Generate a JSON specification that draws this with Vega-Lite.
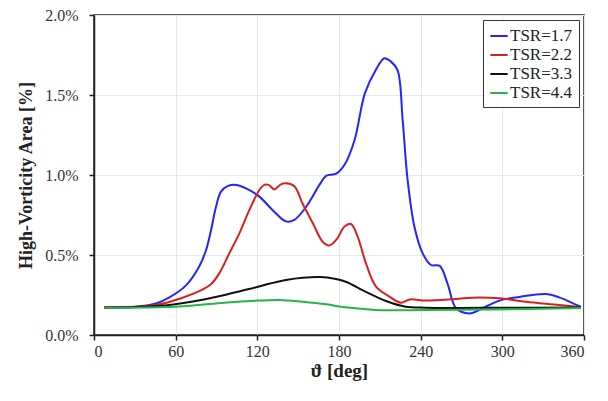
{
  "$schema": "https://vega.github.io/schema/vega-lite/v6.json",
  "width": 490,
  "height": 320,
  "autosize": {"type": "none"},
  "padding": {"left": 94, "top": 15, "right": 20, "bottom": 66},
  "background": "white",
  "config": {
    "view": {"stroke": "#222", "strokeWidth": 1.5},
    "font": "Liberation Serif"
  },
  "data": {
    "values": [
      {"s": "TSR=1.7", "deg": 7.6, "v": 0.172},
      {"s": "TSR=1.7", "deg": 30, "v": 0.176},
      {"s": "TSR=1.7", "deg": 45, "v": 0.195},
      {"s": "TSR=1.7", "deg": 55.4, "v": 0.235},
      {"s": "TSR=1.7", "deg": 67.6, "v": 0.31},
      {"s": "TSR=1.7", "deg": 77.4, "v": 0.43},
      {"s": "TSR=1.7", "deg": 82.3, "v": 0.53},
      {"s": "TSR=1.7", "deg": 86, "v": 0.656},
      {"s": "TSR=1.7", "deg": 89.6, "v": 0.8},
      {"s": "TSR=1.7", "deg": 93.3, "v": 0.896},
      {"s": "TSR=1.7", "deg": 98.2, "v": 0.93},
      {"s": "TSR=1.7", "deg": 104.3, "v": 0.938},
      {"s": "TSR=1.7", "deg": 111.7, "v": 0.917},
      {"s": "TSR=1.7", "deg": 121.5, "v": 0.865},
      {"s": "TSR=1.7", "deg": 131.3, "v": 0.78},
      {"s": "TSR=1.7", "deg": 141, "v": 0.71},
      {"s": "TSR=1.7", "deg": 147.2, "v": 0.72},
      {"s": "TSR=1.7", "deg": 155.8, "v": 0.8},
      {"s": "TSR=1.7", "deg": 165.6, "v": 0.938},
      {"s": "TSR=1.7", "deg": 170.5, "v": 0.995},
      {"s": "TSR=1.7", "deg": 178, "v": 1.008},
      {"s": "TSR=1.7", "deg": 184.5, "v": 1.07},
      {"s": "TSR=1.7", "deg": 191.5, "v": 1.22},
      {"s": "TSR=1.7", "deg": 199, "v": 1.51},
      {"s": "TSR=1.7", "deg": 207, "v": 1.656},
      {"s": "TSR=1.7", "deg": 213.3, "v": 1.73},
      {"s": "TSR=1.7", "deg": 218, "v": 1.71},
      {"s": "TSR=1.7", "deg": 223, "v": 1.656},
      {"s": "TSR=1.7", "deg": 226.8, "v": 1.34},
      {"s": "TSR=1.7", "deg": 230.4, "v": 0.97},
      {"s": "TSR=1.7", "deg": 235.4, "v": 0.677},
      {"s": "TSR=1.7", "deg": 241.5, "v": 0.51},
      {"s": "TSR=1.7", "deg": 247.6, "v": 0.4375},
      {"s": "TSR=1.7", "deg": 254, "v": 0.432},
      {"s": "TSR=1.7", "deg": 259.8, "v": 0.32},
      {"s": "TSR=1.7", "deg": 266, "v": 0.167},
      {"s": "TSR=1.7", "deg": 275.7, "v": 0.135},
      {"s": "TSR=1.7", "deg": 285.5, "v": 0.167},
      {"s": "TSR=1.7", "deg": 297.8, "v": 0.215},
      {"s": "TSR=1.7", "deg": 312.5, "v": 0.238},
      {"s": "TSR=1.7", "deg": 332, "v": 0.256},
      {"s": "TSR=1.7", "deg": 341.8, "v": 0.235},
      {"s": "TSR=1.7", "deg": 354, "v": 0.19},
      {"s": "TSR=1.7", "deg": 357.8, "v": 0.175},

      {"s": "TSR=2.2", "deg": 7.6, "v": 0.172},
      {"s": "TSR=2.2", "deg": 30, "v": 0.175},
      {"s": "TSR=2.2", "deg": 47, "v": 0.19},
      {"s": "TSR=2.2", "deg": 64, "v": 0.23},
      {"s": "TSR=2.2", "deg": 78.9, "v": 0.28},
      {"s": "TSR=2.2", "deg": 86.3, "v": 0.32},
      {"s": "TSR=2.2", "deg": 92, "v": 0.385},
      {"s": "TSR=2.2", "deg": 99.4, "v": 0.51},
      {"s": "TSR=2.2", "deg": 106.8, "v": 0.635},
      {"s": "TSR=2.2", "deg": 114.1, "v": 0.78},
      {"s": "TSR=2.2", "deg": 121.5, "v": 0.906},
      {"s": "TSR=2.2", "deg": 125.5, "v": 0.94},
      {"s": "TSR=2.2", "deg": 128.3, "v": 0.938},
      {"s": "TSR=2.2", "deg": 132.5, "v": 0.91},
      {"s": "TSR=2.2", "deg": 137, "v": 0.94},
      {"s": "TSR=2.2", "deg": 141, "v": 0.948},
      {"s": "TSR=2.2", "deg": 147.2, "v": 0.93},
      {"s": "TSR=2.2", "deg": 153.3, "v": 0.82},
      {"s": "TSR=2.2", "deg": 160.7, "v": 0.7},
      {"s": "TSR=2.2", "deg": 168, "v": 0.583},
      {"s": "TSR=2.2", "deg": 173, "v": 0.56},
      {"s": "TSR=2.2", "deg": 178.5, "v": 0.6},
      {"s": "TSR=2.2", "deg": 183.9, "v": 0.677},
      {"s": "TSR=2.2", "deg": 188.8, "v": 0.694},
      {"s": "TSR=2.2", "deg": 193.7, "v": 0.615},
      {"s": "TSR=2.2", "deg": 199.8, "v": 0.448},
      {"s": "TSR=2.2", "deg": 207.2, "v": 0.302},
      {"s": "TSR=2.2", "deg": 217, "v": 0.24},
      {"s": "TSR=2.2", "deg": 225.5, "v": 0.202},
      {"s": "TSR=2.2", "deg": 232, "v": 0.222},
      {"s": "TSR=2.2", "deg": 243.8, "v": 0.215},
      {"s": "TSR=2.2", "deg": 263.4, "v": 0.223},
      {"s": "TSR=2.2", "deg": 278, "v": 0.233},
      {"s": "TSR=2.2", "deg": 297.8, "v": 0.229},
      {"s": "TSR=2.2", "deg": 317.3, "v": 0.208},
      {"s": "TSR=2.2", "deg": 341.8, "v": 0.1875},
      {"s": "TSR=2.2", "deg": 357.8, "v": 0.173},

      {"s": "TSR=3.3", "deg": 7.6, "v": 0.172},
      {"s": "TSR=3.3", "deg": 47, "v": 0.181},
      {"s": "TSR=3.3", "deg": 71.5, "v": 0.208},
      {"s": "TSR=3.3", "deg": 96, "v": 0.25},
      {"s": "TSR=3.3", "deg": 120.5, "v": 0.302},
      {"s": "TSR=3.3", "deg": 141, "v": 0.344},
      {"s": "TSR=3.3", "deg": 166, "v": 0.362},
      {"s": "TSR=3.3", "deg": 177.8, "v": 0.35},
      {"s": "TSR=3.3", "deg": 185, "v": 0.333},
      {"s": "TSR=3.3", "deg": 199.8, "v": 0.27},
      {"s": "TSR=3.3", "deg": 214.5, "v": 0.2125},
      {"s": "TSR=3.3", "deg": 229, "v": 0.177},
      {"s": "TSR=3.3", "deg": 243.8, "v": 0.171},
      {"s": "TSR=3.3", "deg": 300, "v": 0.17},
      {"s": "TSR=3.3", "deg": 357.8, "v": 0.172},

      {"s": "TSR=4.4", "deg": 7.6, "v": 0.17},
      {"s": "TSR=4.4", "deg": 47, "v": 0.173},
      {"s": "TSR=4.4", "deg": 71.5, "v": 0.183},
      {"s": "TSR=4.4", "deg": 96, "v": 0.202},
      {"s": "TSR=4.4", "deg": 120.5, "v": 0.215},
      {"s": "TSR=4.4", "deg": 136, "v": 0.219},
      {"s": "TSR=4.4", "deg": 153, "v": 0.208},
      {"s": "TSR=4.4", "deg": 170.5, "v": 0.192},
      {"s": "TSR=4.4", "deg": 184.5, "v": 0.173},
      {"s": "TSR=4.4", "deg": 207, "v": 0.157},
      {"s": "TSR=4.4", "deg": 243.8, "v": 0.156},
      {"s": "TSR=4.4", "deg": 292.8, "v": 0.16},
      {"s": "TSR=4.4", "deg": 357.8, "v": 0.168}
    ]
  },
  "mark": {"type": "line", "interpolate": "catmull-rom", "strokeWidth": 2},
  "encoding": {
    "x": {
      "field": "deg", "type": "quantitative",
      "scale": {"domain": [0, 360], "nice": false},
      "axis": {
        "values": [0, 60, 120, 180, 240, 300, 360],
        "title": "ϑ [deg]",
        "titleFont": "Liberation Serif", "titleFontSize": 19, "titleFontWeight": "bold", "titleColor": "#222",
        "titlePadding": 2,
        "labelFont": "Liberation Serif", "labelFontSize": 16, "labelColor": "#333", "labelPadding": 3,
        "domainColor": "#222", "domainWidth": 1.5,
        "tickColor": "#222", "tickSize": 5, "tickWidth": 1.5,
        "gridColor": "#e8e8e8", "gridWidth": 1
      }
    },
    "y": {
      "field": "v", "type": "quantitative",
      "scale": {"domain": [0, 2], "nice": false},
      "axis": {
        "values": [0, 0.5, 1, 1.5, 2],
        "labelExpr": "format(datum.value, '.1f') + '%'",
        "title": "High-Vorticity Area [%]",
        "titleFont": "Liberation Serif", "titleFontSize": 18, "titleFontWeight": "bold", "titleColor": "#222",
        "titlePadding": 9,
        "labelFont": "Liberation Serif", "labelFontSize": 16, "labelColor": "#333", "labelPadding": 11,
        "domainColor": "#222", "domainWidth": 1.5,
        "tickColor": "#222", "tickSize": 5, "tickWidth": 1.5,
        "gridColor": "#e8e8e8", "gridWidth": 1
      }
    },
    "color": {
      "field": "s", "type": "nominal",
      "scale": {
        "domain": ["TSR=1.7", "TSR=2.2", "TSR=3.3", "TSR=4.4"],
        "range": ["#2424ff", "#d82020", "#111111", "#28b24c"]
      },
      "legend": {
        "orient": "top-right", "offset": 5, "title": null,
        "strokeColor": "#333", "fillColor": "white", "padding": 6,
        "symbolType": "stroke", "symbolSize": 300, "symbolStrokeWidth": 2,
        "labelFont": "Liberation Serif", "labelFontSize": 17, "labelColor": "#222",
        "labelOffset": 1, "rowPadding": 1
      }
    }
  }
}
